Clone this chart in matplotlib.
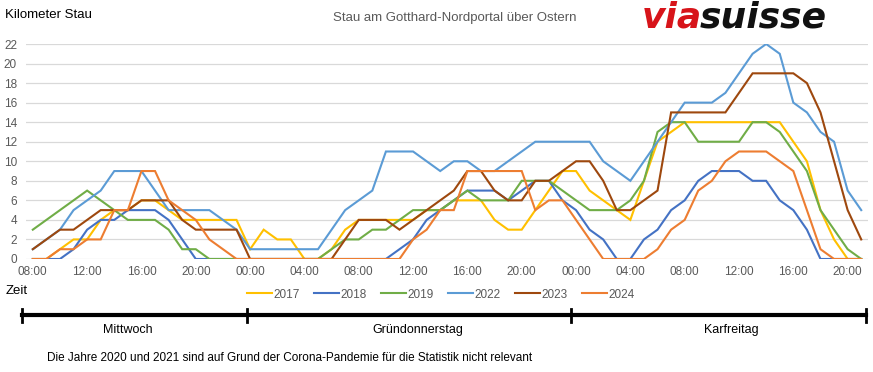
"""
Stau am Gotthard-Nordportal über Ostern (Mittwoch 08:00 bis Karfreitag 21:00).
"""
import matplotlib
matplotlib.use("Agg")
import matplotlib.pyplot as plt
from matplotlib import font_manager
from matplotlib.lines import Line2D
import numpy as np

# hourly values, 08:00 Mittwoch -> 21:00 Karfreitag
hours = np.arange(62)
tick_hours = np.arange(0, 61, 4)
tick_labels = ["08:00", "12:00", "16:00", "20:00", "00:00", "04:00",
               "08:00", "12:00", "16:00", "20:00", "00:00", "04:00",
               "08:00", "12:00", "16:00", "20:00"]

stau_2017 = [0, 0, 1, 2, 2, 4, 5, 5, 6, 6, 5, 4, 4, 4, 4, 4, 1, 3, 2, 2, 0, 0,
             1, 3, 4, 4, 4, 4, 4, 5, 5, 6, 6, 6, 4, 3, 3, 5, 7, 9, 9, 7, 6, 5,
             4, 8, 12, 13, 14, 14, 14, 14, 14, 14, 14, 14, 12, 10, 5, 2, 0, 0]
stau_2018 = [0, 0, 0, 1, 3, 4, 4, 5, 5, 5, 4, 2, 0, 0, 0, 0, 0, 0, 0, 0, 0, 0,
             0, 0, 0, 0, 0, 1, 2, 4, 5, 6, 7, 7, 7, 6, 7, 8, 8, 6, 5, 3, 2, 0,
             0, 2, 3, 5, 6, 8, 9, 9, 9, 8, 8, 6, 5, 3, 0, 0, 0, 0]
stau_2019 = [3, 4, 5, 6, 7, 6, 5, 4, 4, 4, 3, 1, 1, 0, 0, 0, 0, 0, 0, 0, 0, 0,
             1, 2, 2, 3, 3, 4, 5, 5, 5, 6, 7, 6, 6, 6, 8, 8, 8, 7, 6, 5, 5, 5,
             6, 8, 13, 14, 14, 12, 12, 12, 12, 14, 14, 13, 11, 9, 5, 3, 1, 0]
stau_2022 = [1, 2, 3, 5, 6, 7, 9, 9, 9, 7, 5, 5, 5, 5, 4, 3, 1, 1, 1, 1, 1, 1,
             3, 5, 6, 7, 11, 11, 11, 10, 9, 10, 10, 9, 9, 10, 11, 12, 12, 12, 12, 12, 10, 9,
             8, 10, 12, 14, 16, 16, 16, 17, 19, 21, 22, 21, 16, 15, 13, 12, 7, 5]
stau_2023 = [1, 2, 3, 3, 4, 5, 5, 5, 6, 6, 6, 4, 3, 3, 3, 3, 0, 0, 0, 0, 0, 0,
             0, 2, 4, 4, 4, 3, 4, 5, 6, 7, 9, 9, 7, 6, 6, 8, 8, 9, 10, 10, 8, 5,
             5, 6, 7, 15, 15, 15, 15, 15, 17, 19, 19, 19, 19, 18, 15, 10, 5, 2]
stau_2024 = [0, 0, 1, 1, 2, 2, 5, 5, 9, 9, 6, 5, 4, 2, 1, 0, 0, 0, 0, 0, 0, 0,
             0, 0, 0, 0, 0, 0, 2, 3, 5, 5, 9, 9, 9, 9, 9, 5, 6, 6, 4, 2, 0, 0,
             0, 0, 1, 3, 4, 7, 8, 10, 11, 11, 11, 10, 9, 5, 1, 0, 0, 0]

years = ["2017", "2018", "2019", "2022", "2023", "2024"]
series = [stau_2017, stau_2018, stau_2019, stau_2022, stau_2023, stau_2024]
COLORS = {
    "2017": "#ffc000",  # gelb
    "2018": "#4472c4",  # blau
    "2019": "#70ad47",  # grün
    "2022": "#5b9bd5",  # hellblau
    "2023": "#9e480e",  # braun
    "2024": "#ed7d31",  # orange
}

days = ["Mittwoch", "Gründonnerstag", "Karfreitag"]

available = {f.name for f in font_manager.fontManager.ttflist}
FONT = "Liberation Sans Narrow" if "Liberation Sans Narrow" in available else "Liberation Sans"
plt.rcParams["font.family"] = [FONT, "DejaVu Sans"]
GREY = "#595959"

fig = plt.figure(figsize=(8.73, 3.72), dpi=100)
ax = fig.add_axes([0.0298, 0.3038, 0.9645, 0.5779])

for year, values in zip(years, series):
    ax.plot(hours, values, color=COLORS[year], linewidth=1.5, label=year,
            solid_joinstyle="miter")

ax.set_xlim(-0.5, 61.5)
ax.set_ylim(0, 22)
ax.set_yticks(np.arange(0, 23, 2))
ax.set_xticks(tick_hours)
ax.set_xticklabels(tick_labels)
ax.tick_params(length=0, labelsize=8.5, labelcolor=GREY)
ax.tick_params(axis="y", pad=6.5)
ax.tick_params(axis="x", pad=5)
ax.grid(axis="y", color="#d9d9d9", linewidth=0.9)
ax.set_axisbelow(True)
for s in ax.spines.values():
    s.set_visible(False)

fig.legend(loc="center", bbox_to_anchor=(0.505, 0.208), ncol=6, frameon=False,
           fontsize=8.5, handlelength=2.1, handletextpad=0.15, columnspacing=1.2,
           labelcolor=GREY)

fig.text(0.006, 0.96, "Kilometer Stau", fontsize=9.5, va="center")
fig.text(0.521, 0.952, "Stau am Gotthard-Nordportal über Ostern", fontsize=9.5,
         color=GREY, ha="center", va="center")
fig.text(0.006, 0.218, "Zeit", fontsize=9.5, va="center")

# viasuisse logo
logo_y = 0.925
t_via = fig.text(0.735, logo_y, "via", color="#d7141a", fontsize=26,
                 fontweight="bold", style="italic", family="DejaVu Sans", va="baseline")
fig.canvas.draw()
bb = t_via.get_window_extent()
fig.text(bb.x1 / fig.bbox.width - 0.003, logo_y, "suisse", color="#111111", fontsize=26,
         fontweight="bold", style="italic", family="DejaVu Sans", va="baseline")

# day timeline
edges = [0.0252, 0.283, 0.654, 0.992]
fig.add_artist(Line2D([edges[0], edges[-1]], [0.152, 0.152], color="black", linewidth=3))
for e in edges:
    fig.add_artist(Line2D([e, e], [0.135, 0.17], color="black", linewidth=2))
for x, day in zip([0.146, 0.479, 0.838], days):
    fig.text(x, 0.112, day, fontsize=9, ha="center", va="center")

fig.text(0.054, 0.038, "Die Jahre 2020 und 2021 sind auf Grund der Corona-Pandemie "
         "für die Statistik nicht relevant", fontsize=8.5, va="center")

fig.savefig("out.png", dpi=100)
